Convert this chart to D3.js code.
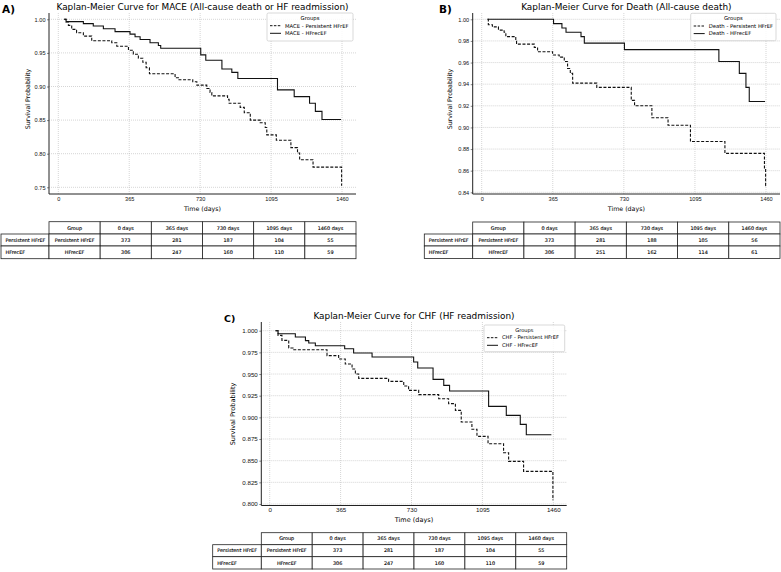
<!DOCTYPE html>
<html>
<head>
<meta charset="utf-8">
<script src="https://cdn.jsdelivr.net/npm/d3@7/dist/d3.min.js"></script>
<style>
  body { margin: 0; background: #fff; }
  svg { font-family: "DejaVu Sans", sans-serif; }
  .grid line { stroke: #b8b8b8; stroke-width: 0.6; stroke-dasharray: 1,1; }
  .axis .domain { display: none; }
  .axis line { stroke: #333; stroke-width: 0.6; }
  .axis text { fill: #111; }
  .spine { stroke: #222; stroke-width: 1; }
  .cell { fill: #fff; stroke: #222; stroke-width: 0.8; }
</style>
</head>
<body>
<svg id="chart" width="781" height="572"></svg>
<script>
const dayTicks = [0, 365, 730, 1095, 1460];
const tableHeader = ["Group", "0 days", "365 days", "730 days", "1095 days", "1460 days"];
const groupNames = ["Persistent HFrEF", "HFrecEF"];

// A) MACE
const maceTicks = [0.75, 0.80, 0.85, 0.90, 0.95, 1.00];
const macePersistent = [[30,1.0],[40,0.996],[52,0.991],[69,0.985],[94,0.980],[129,0.975],[172,0.968],[275,0.965],[301,0.960],[361,0.954],[386,0.948],[412,0.942],[435,0.936],[452,0.928],[469,0.919],[601,0.913],[618,0.910],[692,0.907],[713,0.902],[764,0.897],[781,0.891],[790,0.886],[871,0.881],[879,0.875],[936,0.869],[957,0.861],[988,0.850],[1039,0.846],[1065,0.839],[1073,0.828],[1122,0.820],[1197,0.809],[1231,0.801],[1242,0.791],[1311,0.780],[1458,0.753],[1460,0.753]];
const maceRecovered = [[30,1.0],[40,0.9965],[129,0.9936],[180,0.990],[232,0.986],[292,0.9817],[369,0.978],[395,0.974],[421,0.970],[472,0.965],[515,0.961],[527,0.957],[733,0.947],[759,0.939],[842,0.926],[893,0.921],[924,0.912],[1128,0.895],[1214,0.885],[1293,0.875],[1323,0.863],[1357,0.851],[1455,0.851]];
const maceRiskPersistent = [373, 281, 187, 104, 55];
const maceRiskRecovered = [306, 247, 160, 110, 59];

// B) Death
const deathTicks = [0.84, 0.86, 0.88, 0.90, 0.92, 0.94, 0.96, 0.98, 1.00];
const deathPersistent = [[30,1.0],[34,0.995],[55,0.993],[86,0.990],[115,0.988],[124,0.984],[175,0.980],[179,0.977],[270,0.974],[287,0.970],[364,0.967],[398,0.965],[424,0.961],[441,0.9545],[455,0.950],[467,0.941],[591,0.937],[768,0.925],[785,0.920],[874,0.909],[957,0.902],[1072,0.887],[1249,0.876],[1452,0.861],[1458,0.846],[1460,0.846]];
const deathRecovered = [[30,1.0],[369,0.996],[412,0.992],[433,0.988],[510,0.984],[527,0.978],[733,0.972],[1218,0.961],[1323,0.950],[1357,0.937],[1374,0.924],[1455,0.924]];
const deathRiskPersistent = [373, 281, 188, 105, 56];
const deathRiskRecovered = [306, 251, 162, 114, 61];

// C) CHF
const chfTicks = [0.800, 0.825, 0.850, 0.875, 0.900, 0.925, 0.950, 0.975, 1.000];
const chfPersistent = [[30,1.0],[43,0.9946],[63,0.9888],[98,0.980],[120,0.978],[295,0.9712],[355,0.9673],[389,0.9615],[424,0.9558],[441,0.950],[458,0.945],[612,0.9415],[690,0.9362],[715,0.9311],[767,0.9262],[870,0.9215],[921,0.9158],[956,0.9081],[986,0.8946],[1041,0.8862],[1067,0.8781],[1124,0.8696],[1204,0.8592],[1230,0.8492],[1307,0.8377],[1458,0.805],[1460,0.805]];
const chfRecovered = [[30,1.0],[43,0.9965],[132,0.9927],[184,0.9885],[201,0.9858],[235,0.9827],[386,0.9792],[432,0.9742],[527,0.9696],[741,0.9638],[762,0.9569],[841,0.9438],[896,0.9369],[926,0.9304],[1127,0.9127],[1218,0.9023],[1290,0.8919],[1321,0.880],[1450,0.880]];
const chfRiskPersistent = [373, 281, 187, 104, 55];
const chfRiskRecovered = [306, 247, 160, 110, 59];

class KMPanel {

  /**
   * One Kaplan-Meier panel with its legend and at-risk table
   */
  constructor(_config, _curves, _risk) {
    this.config = _config;
    this.curves = _curves;
    this.risk = _risk;
    this.initVis();
  }

  initVis() {
    let vis = this;
    const c = vis.config;

    vis.g = d3.select('#chart').append('g');

    vis.xScale = d3.scaleLinear()
        .domain([0, 1460])
        .range([c.x0, c.x1]);

    vis.yScale = d3.scaleLinear()
        .domain([c.yTicks[0], c.yTicks[c.yTicks.length - 1]])
        .range(c.yRange);

    vis.xAxis = d3.axisBottom(vis.xScale)
        .tickValues(dayTicks)
        .tickFormat(d3.format('d'))
        .tickSize(0)
        .tickPadding(c.xPad);

    vis.yAxis = d3.axisLeft(vis.yScale)
        .tickValues(c.yTicks)
        .tickFormat(d3.format(c.fmt))
        .tickSize(2)
        .tickPadding(1.5);

    vis.line = d3.line()
        .x(d => vis.xScale(d[0]))
        .y(d => vis.yScale(d[1]))
        .curve(d3.curveStepAfter);

    vis.renderVis();
  }

  renderVis() {
    let vis = this;
    const c = vis.config;
    const g = vis.g;

    // Grid
    const grid = g.append('g').attr('class', 'grid');
    grid.selectAll('.hg')
        .data(c.yTicks)
      .join('line')
        .attr('x1', c.left).attr('x2', c.right)
        .attr('y1', d => vis.yScale(d)).attr('y2', d => vis.yScale(d));
    grid.selectAll('.vg')
        .data(dayTicks)
      .join('line')
        .attr('class', 'vg')
        .attr('x1', d => vis.xScale(d)).attr('x2', d => vis.xScale(d))
        .attr('y1', c.top).attr('y2', c.bottom);

    // Curves
    g.selectAll('.km-line')
        .data(vis.curves)
      .join('path')
        .attr('class', 'km-line')
        .attr('fill', 'none')
        .attr('stroke', '#111')
        .attr('stroke-width', 1.1)
        .attr('stroke-dasharray', d => d.dash ? '3,1.6' : null)
        .attr('d', d => vis.line(d.values));

    // Axes and spines
    g.append('g')
        .attr('class', 'axis')
        .attr('transform', `translate(0,${c.bottom})`)
        .style('font-size', c.tickFont + 'px')
        .call(vis.xAxis);
    g.append('g')
        .attr('class', 'axis')
        .attr('transform', `translate(${c.left},0)`)
        .style('font-size', c.tickFont + 'px')
        .call(vis.yAxis);

    g.append('line').attr('class', 'spine')
        .attr('x1', c.left).attr('x2', c.left).attr('y1', c.top).attr('y2', c.bottom);
    g.append('line').attr('class', 'spine')
        .attr('x1', c.left).attr('x2', c.right).attr('y1', c.bottom).attr('y2', c.bottom);

    // Titles and labels
    g.append('text')
        .attr('x', (c.left + c.right) / 2).attr('y', c.titleY)
        .attr('text-anchor', 'middle')
        .style('font-size', c.titleFont + 'px')
        .text(c.title);
    g.append('text')
        .attr('x', c.tagX).attr('y', c.tagY)
        .style('font-size', c.tagFont + 'px')
        .style('font-weight', 'bold')
        .text(c.tag);
    g.append('text')
        .attr('x', (c.left + c.right) / 2).attr('y', c.xLabelY)
        .attr('text-anchor', 'middle')
        .style('font-size', c.labelFont + 'px')
        .text('Time (days)');
    g.append('text')
        .attr('transform', `translate(${c.yLabelX},${c.yLabelY}) rotate(-90)`)
        .attr('text-anchor', 'middle')
        .style('font-size', c.labelFont + 'px')
        .text('Survival Probability');

    // Legend
    const lg = g.append('g').attr('transform', `translate(${c.legend[0]},${c.legend[1]})`);
    lg.append('rect')
        .attr('width', c.legend[2]).attr('height', c.legend[3])
        .attr('rx', 1.5)
        .attr('fill', '#fff').attr('fill-opacity', 0.85)
        .attr('stroke', '#c8c8c8').attr('stroke-width', 0.7);
    lg.append('text')
        .attr('x', c.legend[2] / 2).attr('y', 7)
        .attr('text-anchor', 'middle')
        .style('font-size', c.legendFont + 'px')
        .text('Groups');
    const items = lg.selectAll('.item')
        .data(vis.curves)
      .join('g')
        .attr('transform', (d, i) => `translate(0,${12.7 + i * 7.6})`);
    items.append('line')
        .attr('x1', 3).attr('x2', 14)
        .attr('stroke', '#111').attr('stroke-width', 1)
        .attr('stroke-dasharray', d => d.dash ? '2.5,1.4' : null);
    items.append('text')
        .attr('x', 18).attr('y', 0).attr('dy', '0.35em')
        .style('font-size', c.legendFont + 'px')
        .text(d => d.name);

    // At-risk table
    const colW = (c.right - c.left) / 6;
    const edges = [c.tableX0, c.left].concat(d3.range(1, 7).map(i => c.left + i * colW));
    const rowsY = c.tableRows;
    const tg = g.append('g').style('font-size', c.tableFont + 'px');

    const cells = [];
    tableHeader.forEach((h, j) => cells.push({ r: 0, col: j + 1, text: h, anchor: 'middle' }));
    vis.risk.forEach((vals, i) => {
      cells.push({ r: i + 1, col: 0, text: groupNames[i], anchor: 'start' });
      cells.push({ r: i + 1, col: 1, text: groupNames[i], anchor: 'middle' });
      vals.forEach((v, j) => cells.push({ r: i + 1, col: j + 2, text: v, anchor: 'middle' }));
    });

    tg.selectAll('rect')
        .data(cells)
      .join('rect')
        .attr('class', 'cell')
        .attr('x', d => edges[d.col])
        .attr('y', d => rowsY[d.r])
        .attr('width', d => edges[d.col + 1] - edges[d.col])
        .attr('height', d => rowsY[d.r + 1] - rowsY[d.r]);
    tg.selectAll('text')
        .data(cells)
      .join('text')
        .attr('x', d => d.anchor === 'start' ? edges[d.col] + 4.5 : (edges[d.col] + edges[d.col + 1]) / 2)
        .attr('y', d => (rowsY[d.r] + rowsY[d.r + 1]) / 2)
        .attr('dy', '0.35em')
        .attr('text-anchor', d => d.anchor)
        .style('fill', '#000')
        .style('stroke', '#000')
        .style('stroke-width', 0.12)
        .text(d => d.text);
  }
}

new KMPanel({
  left: 49, right: 356, top: 13, bottom: 194,
  x0: 58.3, x1: 342, yRange: [187.3, 19.3], yTicks: maceTicks, fmt: '.2f', xPad: 3,
  title: 'Kaplan-Meier Curve for MACE (All-cause death or HF readmission)', titleY: 9.5, titleFont: 8.9,
  tag: 'A)', tagX: 2, tagY: 12.7, tagFont: 10.5,
  xLabelY: 210.5, yLabelX: 30, yLabelY: 99, labelFont: 6.3, tickFont: 5.6,
  legend: [267, 13, 86, 28], legendFont: 5.3,
  tableX0: 1, tableRows: [221.7, 234, 246, 258.7], tableFont: 4.9
}, [
  { name: 'MACE - Persistent HFrEF', dash: true, values: macePersistent },
  { name: 'MACE - HFrecEF', dash: false, values: maceRecovered }
], [maceRiskPersistent, maceRiskRecovered]);

new KMPanel({
  left: 472.7, right: 780, top: 13, bottom: 194,
  x0: 481.7, x1: 766, yRange: [192.3, 19.3], yTicks: deathTicks, fmt: '.2f', xPad: 3,
  title: 'Kaplan-Meier Curve for Death (All-cause death)', titleY: 10, titleFont: 8.9,
  tag: 'B)', tagX: 439, tagY: 13.3, tagFont: 10.5,
  xLabelY: 210.5, yLabelX: 452, yLabelY: 99, labelFont: 6.3, tickFont: 5.6,
  legend: [690.7, 13.3, 85.3, 27.4], legendFont: 5.3,
  tableX0: 424.3, tableRows: [222, 234, 246, 258.5], tableFont: 4.9
}, [
  { name: 'Death - Persistent HFrEF', dash: true, values: deathPersistent },
  { name: 'Death - HFrecEF', dash: false, values: deathRecovered }
], [deathRiskPersistent, deathRiskRecovered]);

new KMPanel({
  left: 261.3, right: 566.7, top: 322, bottom: 505.5,
  x0: 269.7, x1: 553.3, yRange: [504, 330.7], yTicks: chfTicks, fmt: '.3f', xPad: 2,
  title: 'Kaplan-Meier Curve for CHF (HF readmission)', titleY: 318.5, titleFont: 8.9,
  tag: 'C)', tagX: 224, tagY: 321.7, tagFont: 9.5,
  xLabelY: 521.5, yLabelX: 235, yLabelY: 414, labelFont: 6.5, tickFont: 6.2,
  legend: [484, 325, 80.7, 26.7], legendFont: 5.1,
  tableX0: 212.7, tableRows: [532.7, 544.7, 556.7, 569], tableFont: 4.9
}, [
  { name: 'CHF - Persistent HFrEF', dash: true, values: chfPersistent },
  { name: 'CHF - HFrecEF', dash: false, values: chfRecovered }
], [chfRiskPersistent, chfRiskRecovered]);
</script>
</body>
</html>
